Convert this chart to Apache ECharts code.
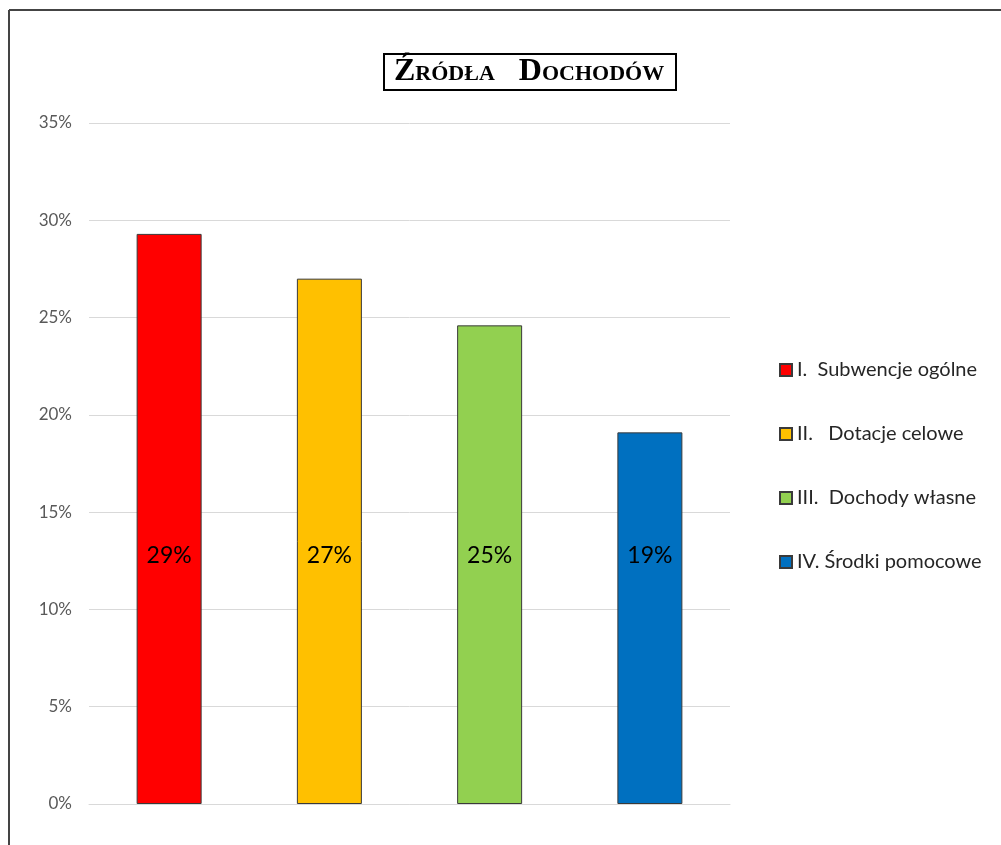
<!DOCTYPE html>
<html lang="pl">
<head>
<meta charset="utf-8" />
<title>Źródła Dochodów</title>
<script src="https://cdn.jsdelivr.net/npm/echarts@6/dist/echarts.min.js"></script>
<style>
	html, body { margin: 0; padding: 0; background: #fff; }
	#chart { width: 1001px; height: 845px; }
</style>
</head>
<body>
<div id="chart"></div>
<script type="text/javascript">
	// dane
	const categories = ["I.  Subwencje ogólne", "II.   Dotacje celowe", "III.  Dochody własne", "IV. Środki pomocowe"];
	const shares = [0.293, 0.270, 0.246, 0.191];
	const colors = ["#FF0000", "#FFC000", "#92D050", "#0070C0"];
	const yTicks = [0, 0.05, 0.10, 0.15, 0.20, 0.25, 0.30, 0.35];

	const chart = echarts.init(document.getElementById("chart"));
	const fontMain = "Lato, 'Noto Sans', sans-serif";

	// każdy słupek jako osobna seria, żeby legenda pokazała wszystkie pozycje
	const series = categories.map(function (name, i) {
		const data = categories.map(function (c, j) { return j === i ? shares[i] : "-"; });
		return {
			name: name,
			type: "bar",
			barWidth: 65,
			barGap: "-100%",
			data: data,
			itemStyle: {
				color: colors[i],
				borderColor: "#3a3a3a",
				borderWidth: 1
			},
			label: {
				show: true,
				position: "insideBottom",
				distance: 237,
				fontFamily: fontMain,
				fontSize: 23,
				color: "#000",
				formatter: function (p) { return Math.round(p.value * 100) + "%"; }
			}
		};
	});

	chart.setOption({
		animation: false,
		title: {
			text: "Źródła   Dochodów",
			left: 384,
			top: 54,
			padding: [2, 12, 2, 10],
			borderColor: "#000",
			borderWidth: 2,
			textStyle: {
				fontFamily: "'Liberation Serif', 'DejaVu Serif', serif",
				fontStyle: "small-caps",
				fontWeight: "bold",
				fontSize: 32,
				color: "#000"
			}
		},
		legend: {
			orient: "vertical",
			left: 779,
			top: 360,
			padding: 0,
			itemWidth: 12,
			itemHeight: 12,
			itemGap: 44,
			icon: "rect",
			data: categories,
			textStyle: {
				fontFamily: fontMain,
				fontSize: 20,
				color: "#262626"
			}
		},
		grid: {
			left: 89,
			right: 271,
			top: 123,
			bottom: 41
		},
		xAxis: {
			type: "category",
			data: categories,
			axisLine: { lineStyle: { color: "#d9d9d9" } },
			axisTick: { show: false },
			axisLabel: { show: false }
		},
		yAxis: {
			type: "value",
			min: yTicks[0],
			max: yTicks[yTicks.length - 1],
			interval: 0.05,
			axisLine: { show: false },
			axisTick: { show: false },
			axisLabel: {
				margin: 17,
				fontFamily: fontMain,
				fontSize: 17,
				color: "#595959",
				formatter: function (v) { return Math.round(v * 100) + "%"; }
			},
			splitLine: { lineStyle: { color: "#d9d9d9" } }
		},
		graphic: [
			{ type: "line", shape: { x1: 9, y1: 10, x2: 1001, y2: 10 }, style: { stroke: "#444", lineWidth: 2 } },
			{ type: "line", shape: { x1: 9, y1: 10, x2: 9, y2: 845 }, style: { stroke: "#444", lineWidth: 2 } }
		],
		series: series
	});
</script>
</body>
</html>
